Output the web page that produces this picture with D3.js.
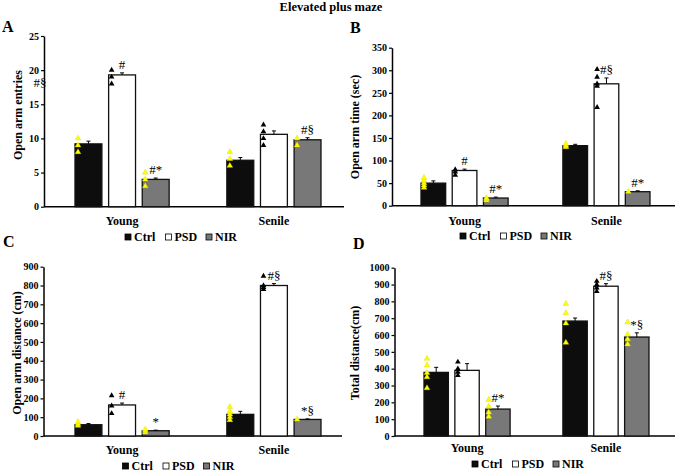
<!DOCTYPE html>
<meta charset="utf-8">
<html>
<head>
<script src="https://d3js.org/d3.v7.min.js"></script>
<style>
  body { margin: 0; background: #fff; }
  text { font-family: "Liberation Serif", "Times New Roman", serif; }
</style>
</head>
<body>
<svg id="chart" width="677" height="472"></svg>
<script>
// groups and treatments
var ages = ["Young", "Senile"];
var treatments = ["Ctrl", "PSD", "NIR"];

// A - open arm entries
var entriesMean = [[9.2, 19.3, 4.0], [6.8, 10.6, 9.8]];
var entriesErr = [[0.4, 0.3, 0.2], [0.4, 0.5, 0.3]];
var entriesPts = [[[8, 9, 10], [18, 19, 20], [3, 4, 5]], [[6, 7, 8], [9, 10, 11, 12], [9, 10]]];
var entriesMarks = [["", "#", "#*"], ["", "", "#§"]];
var entriesTicks = [0, 5, 10, 15, 20, 25];

// B - open arm time
var timeMean = [[50, 78, 17], [133, 270, 31]];
var timeErr = [[5, 3, 2], [3, 13, 2]];
var timePts = [[[40, 45, 50, 56, 62], [68, 75, 80], [12, 15, 17]], [[130, 133, 137], [218, 265, 270, 285, 302], [31]]];
var timeMarks = [["", "#", "#*"], ["", "#§", "#*"]];
var timeTicks = [0, 50, 100, 150, 200, 250, 300, 350];

// C - open arm distance
var distMean = [[60, 165, 28], [115, 800, 88]];
var distErr = [[6, 10, 3], [16, 10, 3]];
var distPts = [[[55, 65, 75], [120, 160, 215], [20, 28, 35]], [[85, 100, 115, 130, 155], [780, 790, 800, 850], [88]]];
var distMarks = [["", "#", "*"], ["", "#§", "*§"]];
var distTicks = [0, 100, 200, 300, 400, 500, 600, 700, 800, 900];

// D - total distance
var totalMean = [[378, 390, 160], [683, 890, 588]];
var totalErr = [[30, 40, 18], [18, 15, 25]];
var totalPts = [[[285, 350, 375, 420, 460], [360, 380, 400, 440], [115, 140, 175, 215]], [[555, 670, 730, 785], [860, 880, 900, 920], [545, 575, 605, 675]]];
var totalMarks = [["", "", "#*"], ["", "#§", "*§"]];
var totalTicks = [0, 100, 200, 300, 400, 500, 600, 700, 800, 900, 1000];

var fills = {Ctrl: "#0d0d0d", PSD: "#ffffff", NIR: "#787878"};
var dotFill = {Ctrl: "#ffff00", PSD: "#000000", NIR: "#ffff00"};

var svg = d3.select("#chart");

svg.append("text").attr("x", 331).attr("y", 11).attr("text-anchor", "middle")
    .attr("font-size", 12.5).attr("font-weight", "bold").text("Elevated plus maze");

function drawPanel(p) {
    var g = svg.append("g");

    var y = d3.scaleLinear().domain([0, p.ymax]).range([p.y0, p.y1]);
    var x0 = d3.scaleBand().domain(ages).range(p.groupRange).paddingInner(p.gpad);
    var x1 = d3.scaleBand().domain(treatments).range([0, x0.bandwidth()]).paddingInner(p.bpad);

    // x axis line
    g.append("line").attr("x1", p.axisX).attr("x2", p.axisEnd)
        .attr("y1", p.y0).attr("y2", p.y0).attr("stroke", "#000").attr("stroke-width", 1.5);

    // y axis
    var yAxis = d3.axisLeft(y).tickValues(p.ticks).tickFormat(d3.format("d")).tickSize(3).tickSizeOuter(0);
    var ax = g.append("g").attr("transform", "translate(" + p.axisX + ",0)").call(yAxis);
    ax.select(".domain").attr("stroke-width", 1.5);
    ax.selectAll(".tick line").attr("stroke-width", 1.2);
    ax.selectAll(".tick text").attr("font-family", "Liberation Serif").attr("font-size", 10)
        .attr("font-weight", "bold").attr("fill", "#000").attr("x", -5);

    ages.forEach(function(age, gi) {
        treatments.forEach(function(t, ti) {
            var bx = x0(age) + x1(t);
            var bw = x1.bandwidth();
            var v = p.mean[gi][ti];
            var e = p.err[gi][ti];
            var cx = bx + bw / 2;

            g.append("rect").attr("x", bx).attr("y", y(v)).attr("width", bw)
                .attr("height", p.y0 - y(v)).attr("fill", fills[t])
                .attr("stroke", "#111").attr("stroke-width", 1.3);

            // error bar
            g.append("line").attr("x1", cx).attr("x2", cx).attr("y1", y(v)).attr("y2", y(v + e))
                .attr("stroke", "#000").attr("stroke-width", 1);
            g.append("line").attr("x1", cx - 2).attr("x2", cx + 2).attr("y1", y(v + e)).attr("y2", y(v + e))
                .attr("stroke", "#000").attr("stroke-width", 1);

            // individual values
            g.selectAll(null).data(p.pts[gi][ti]).enter().append("path")
                .attr("d", d3.symbol().type(d3.symbolTriangle).size(14))
                .attr("transform", function(d) { return "translate(" + (bx + 3) + "," + y(d) + ")"; })
                .attr("fill", dotFill[t])
                .attr("stroke", t == "PSD" ? "none" : "#d8d800").attr("stroke-width", 0.4);

            var m = p.marks[gi][ti];
            if (m) {
                g.append("text").attr("x", cx).attr("y", y(v + e) - 4)
                    .attr("text-anchor", "middle").attr("font-size", 13).text(m);
            }
        });
        g.append("text").attr("x", x0(age) + x0.bandwidth() / 2).attr("y", p.catY)
            .attr("text-anchor", "middle").attr("font-size", 12).attr("font-weight", "bold").text(age);
    });

    // y label
    g.append("text").attr("transform", "translate(" + p.labX + "," + p.labY + ") rotate(-90)")
        .attr("text-anchor", "middle").attr("font-size", 12).attr("font-weight", "bold").text(p.ylabel);

    // panel letter
    g.append("text").attr("x", p.letter[1]).attr("y", p.letter[2])
        .attr("font-size", 16).attr("font-weight", "bold").text(p.letter[0]);

    // legend
    var lg = g.append("g").attr("transform", "translate(" + p.legend[0] + "," + p.legend[1] + ")");
    treatments.forEach(function(t, i) {
        lg.append("rect").attr("x", i * 40.5).attr("y", -7).attr("width", 6).attr("height", 6)
            .attr("fill", fills[t]).attr("stroke", "#000").attr("stroke-width", 0.8);
        lg.append("text").attr("x", i * 40.5 + 9).attr("y", 0)
            .attr("font-size", 12).attr("font-weight", "bold").text(t);
    });
}

drawPanel({mean: entriesMean, err: entriesErr, pts: entriesPts, marks: entriesMarks, ticks: entriesTicks,
    ymax: 25, y0: 206.7, y1: 36, axisX: 44, axisEnd: 344, groupRange: [75, 321], gpad: 0.38, bpad: 0.2,
    catY: 225, labX: 22, labY: 115, ylabel: "Open arm entries", letter: ["A", 2, 32], legend: [125, 241]});

drawPanel({mean: timeMean, err: timeErr, pts: timePts, marks: timeMarks, ticks: timeTicks,
    ymax: 350, y0: 205.7, y1: 47.7, axisX: 392, axisEnd: 675, groupRange: [421, 650], gpad: 0.386, bpad: 0.21,
    catY: 225, labX: 359, labY: 127, ylabel: "Open arm time (sec)", letter: ["B", 350, 33], legend: [460, 240]});

drawPanel({mean: distMean, err: distErr, pts: distPts, marks: distMarks, ticks: distTicks,
    ymax: 900, y0: 436, y1: 266.7, axisX: 43.5, axisEnd: 342, groupRange: [75, 321], gpad: 0.38, bpad: 0.2,
    catY: 454, labX: 21, labY: 353, ylabel: "Open arm distance (cm)", letter: ["C", 3, 247], legend: [122.5, 470]});

drawPanel({mean: totalMean, err: totalErr, pts: totalPts, marks: totalMarks, ticks: totalTicks,
    ymax: 1000, y0: 436, y1: 267.7, axisX: 394.5, axisEnd: 675, groupRange: [424, 649], gpad: 0.38, bpad: 0.21,
    catY: 452, labX: 359, labY: 353, ylabel: "Total distance(cm)", letter: ["D", 353, 249], legend: [472, 468]});

// stray significance mark beside the panel A axis
svg.append("text").attr("x", 40).attr("y", 87).attr("text-anchor", "middle")
    .attr("font-size", 13).text("#§");
</script>
</body>
</html>
